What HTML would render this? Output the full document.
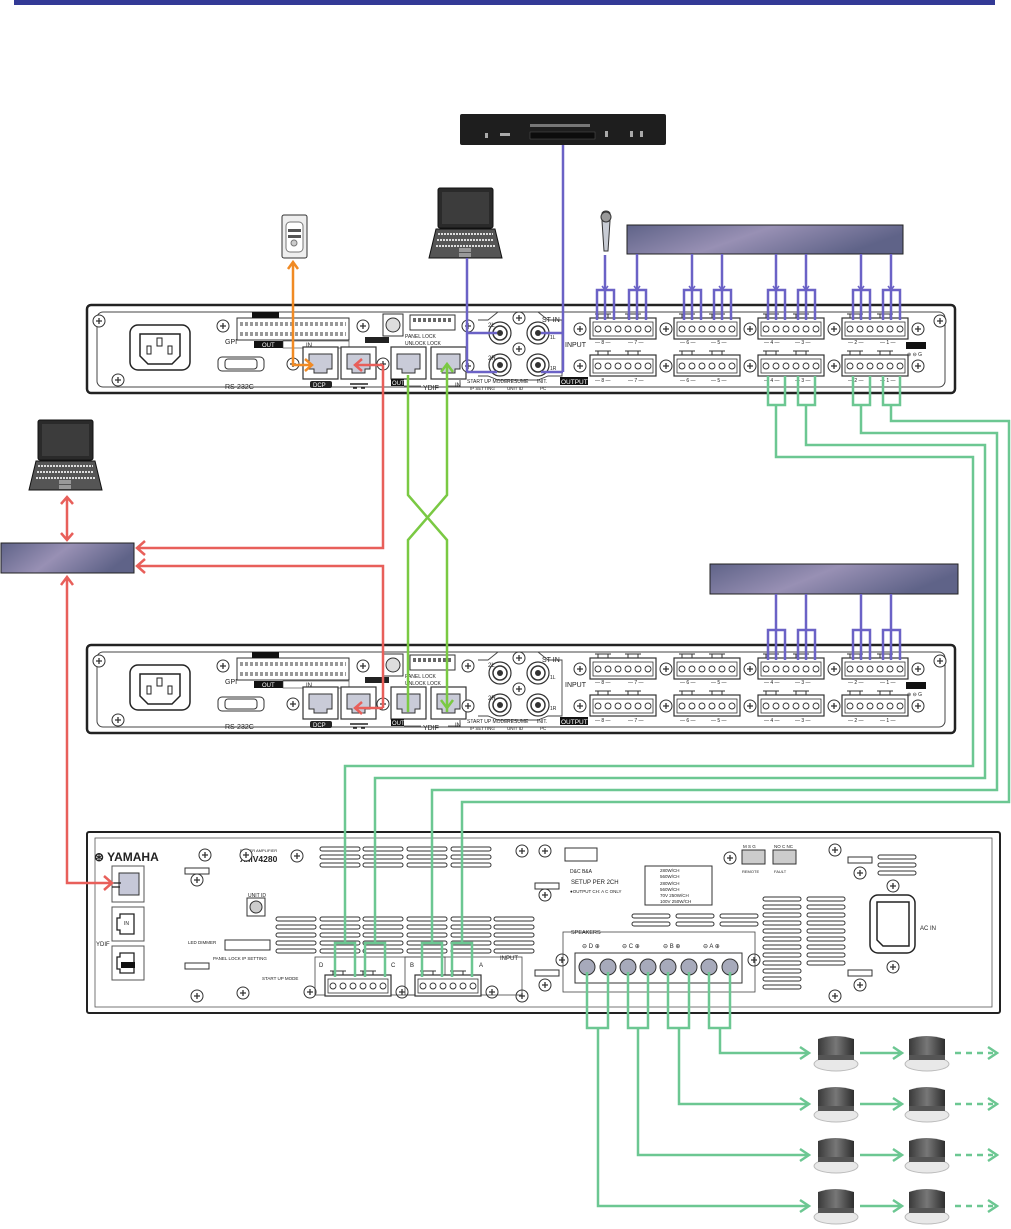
<!DOCTYPE html>
<html><head><meta charset="utf-8"><style>
html,body{margin:0;padding:0;background:#fff}
svg{display:block}
text{font-family:"Liberation Sans",sans-serif;fill:#222}
</style></head><body>
<svg width="1011" height="1229" viewBox="0 0 1011 1229" xmlns="http://www.w3.org/2000/svg">
<defs>
<linearGradient id="pg" x1="0" x2="1" y1="0" y2="0.3">
<stop offset="0" stop-color="#5f6388"/><stop offset="0.5" stop-color="#9890b4"/><stop offset="1" stop-color="#5f6388"/></linearGradient>
<linearGradient id="spk" x1="0" x2="1"><stop offset="0" stop-color="#3a3a3a"/><stop offset="0.5" stop-color="#777"/><stop offset="1" stop-color="#2e2e2e"/></linearGradient>
<g id="scr"><circle r="6" fill="#fff" stroke="#333" stroke-width="1"/><path d="M-3 0h6M0 -3v6" stroke="#333" stroke-width="1.3"/></g>
<g id="phx"><rect x="0" y="0" width="66" height="21" fill="#fff" stroke="#333" stroke-width="1.2"/><rect x="3" y="4" width="60" height="14" fill="none" stroke="#333" stroke-width="0.8"/>
<g fill="#fff" stroke="#333" stroke-width="0.9"><circle cx="8" cy="11" r="3"/><circle cx="18" cy="11" r="3"/><circle cx="28" cy="11" r="3"/><circle cx="38" cy="11" r="3"/><circle cx="48" cy="11" r="3"/><circle cx="58" cy="11" r="3"/></g>
<path d="M8 -4v4M18 -4v4M38-4v4M48-4v4M5 -4h16M35 -4h16" stroke="#333" stroke-width="1" fill="none"/></g>
<g id="port"><rect x="0" y="0" width="35" height="32" fill="#fff" stroke="#333" stroke-width="1.2"/><path d="M6 7h23v15h-5v4h-13v-4h-5z" fill="#c9cbd8" stroke="#333" stroke-width="1"/></g>
<g id="rca"><circle r="11" fill="#fff" stroke="#333" stroke-width="1.2"/><circle r="7" fill="none" stroke="#333" stroke-width="1.5"/><circle r="3" fill="#333"/></g>
<g id="rack">
<rect x="87" y="305" width="868" height="88" rx="4" fill="#fff" stroke="#222" stroke-width="2.5"/>
<rect x="97" y="312" width="848" height="75" rx="6" fill="none" stroke="#444" stroke-width="1"/>
<use href="#scr" x="99" y="321"/><use href="#scr" x="118" y="380"/><use href="#scr" x="940" y="321"/>
<rect x="130" y="325" width="60" height="45" rx="8" fill="#fff" stroke="#222" stroke-width="1.5"/>
<path d="M140 334h40v22l-8 8h-24l-8-8z" fill="#fff" stroke="#222" stroke-width="1.5"/>
<rect x="157" y="338" width="5" height="8" fill="none" stroke="#222"/><rect x="147" y="346" width="4" height="8" fill="none" stroke="#222"/><rect x="168" y="346" width="4" height="8" fill="none" stroke="#222"/>
<rect x="237" y="318" width="112" height="22" fill="#fff" stroke="#333"/>
<path d="M240 324h106M240 334h106" stroke="#999" stroke-width="4" stroke-dasharray="3 2"/>
<rect x="252" y="312" width="27" height="6" fill="#111"/>
<text x="225" y="344" font-size="7">GPI</text>
<rect x="254" y="341" width="29" height="7" fill="#111"/><text x="262" y="347" font-size="6" style="fill:#fff">OUT</text>
<rect x="283" y="341" width="66" height="7" fill="#fff" stroke="#333" stroke-width="0.6"/><text x="306" y="347" font-size="6">IN</text>
<use href="#scr" x="223" y="326"/><use href="#scr" x="363" y="326"/>
<rect x="218" y="357" width="46" height="14" rx="4" fill="#fff" stroke="#333"/><rect x="225" y="359" width="32" height="10" rx="3" fill="#fff" stroke="#333"/>
<text x="225" y="389" font-size="7">RS-232C</text>
<use href="#scr" x="293" y="364"/>
<use href="#port" x="303" y="347"/><rect x="310" y="381" width="22" height="7" rx="2" fill="#222"/><text x="313" y="387" font-size="6" style="fill:#fff">DCP</text>
<use href="#port" x="341" y="347"/><path d="M350 384h18M353 388h4M361 388h4" stroke="#222" stroke-width="1.5"/>
<use href="#scr" x="383" y="364"/>
<rect x="383" y="314" width="20" height="22" fill="#fff" stroke="#333"/><circle cx="393" cy="325" r="7" fill="#ddd" stroke="#333"/>
<rect x="365" y="337" width="24" height="6" fill="#222"/>
<rect x="410" y="315" width="45" height="15" fill="#fff" stroke="#333"/><path d="M413 320h39" stroke="#666" stroke-width="4" stroke-dasharray="3 2"/>
<text x="405" y="338" font-size="5">PANEL LOCK</text><text x="405" y="345" font-size="5">UNLOCK   LOCK</text>
<use href="#port" x="391" y="347"/><use href="#port" x="431" y="347"/>
<rect x="391" y="379" width="13" height="7" fill="#111"/><text x="392" y="385" font-size="6" style="fill:#fff">OUT</text>
<text x="423" y="390" font-size="7">YDIF</text><text x="455" y="387" font-size="6">IN</text>
<path d="M404 386h17M448 386h12v-6" stroke="#333" fill="none" stroke-width="0.8"/>
<path d="M478 320h10l10-8h40l10 8h14v56h-14l-10 4h-40l-10-4h-10" fill="none" stroke="#444" stroke-width="0.9"/>
<use href="#rca" x="500" y="333"/><use href="#rca" x="500" y="365"/><use href="#rca" x="538" y="333"/><use href="#rca" x="538" y="365"/>
<use href="#scr" x="519" y="318"/><use href="#scr" x="519" y="349"/><use href="#scr" x="468" y="326"/><use href="#scr" x="468" y="366"/>
<text x="488" y="327" font-size="6">2L</text><text x="488" y="360" font-size="6">2R</text><text x="542" y="322" font-size="7">ST IN</text><text x="550" y="339" font-size="5">1L</text><text x="550" y="370" font-size="5">1R</text>
<text x="467" y="383" font-size="5">START UP MODE</text><text x="470" y="390" font-size="4.5">IP SETTING</text>
<text x="507" y="383" font-size="5">RESUME</text><text x="507" y="390" font-size="4.5">UNIT ID</text><text x="537" y="383" font-size="5">INIT.</text><text x="540" y="390" font-size="4.5">PC</text>
<text x="565" y="347" font-size="7">INPUT</text>
<rect x="560" y="377" width="28" height="8" fill="#111"/><text x="561" y="384" font-size="6.5" style="fill:#fff">OUTPUT</text>
<use href="#phx" x="590" y="318"/><use href="#phx" x="674" y="318"/><use href="#phx" x="758" y="318"/><use href="#phx" x="842" y="318"/>
<use href="#phx" x="590" y="355"/><use href="#phx" x="674" y="355"/><use href="#phx" x="758" y="355"/><use href="#phx" x="842" y="355"/>
<use href="#scr" x="580" y="329"/><use href="#scr" x="666" y="329"/><use href="#scr" x="750" y="329"/><use href="#scr" x="834" y="329"/><use href="#scr" x="918" y="329"/>
<use href="#scr" x="580" y="366"/><use href="#scr" x="666" y="366"/><use href="#scr" x="750" y="366"/><use href="#scr" x="834" y="366"/><use href="#scr" x="918" y="366"/>
<g font-size="5"><text x="595" y="344">— 8 —</text><text x="628" y="344">— 7 —</text><text x="680" y="344">— 6 —</text><text x="711" y="344">— 5 —</text><text x="764" y="344">— 4 —</text><text x="795" y="344">— 3 —</text><text x="848" y="344">— 2 —</text><text x="880" y="344">— 1 —</text>
<text x="595" y="382">— 8 —</text><text x="628" y="382">— 7 —</text><text x="680" y="382">— 6 —</text><text x="711" y="382">— 5 —</text><text x="764" y="382">— 4 —</text><text x="795" y="382">— 3 —</text><text x="848" y="382">— 2 —</text><text x="880" y="382">— 1 —</text></g>
<rect x="906" y="342" width="20" height="7" fill="#111"/><text x="907" y="356" font-size="5">⊕ ⊖ G</text>
</g>
<marker id="ap" markerWidth="8" markerHeight="8" refX="5" refY="4" orient="auto" markerUnits="userSpaceOnUse"><path d="M1 1L5 4L1 7" fill="none" stroke="#6b62c6" stroke-width="1.5"/></marker>
</defs>

<rect x="14" y="0" width="981" height="5" fill="#333a96"/>

<!-- CD player -->
<rect x="460" y="114" width="206" height="31" rx="2" fill="#1e1e1e"/>
<rect x="530" y="124" width="60" height="3" fill="#777"/><rect x="530" y="132" width="65" height="7" fill="#0c0c0c" stroke="#555" stroke-width="0.5"/>
<rect x="485" y="133" width="3" height="5" fill="#aaa"/><rect x="500" y="133" width="10" height="3" fill="#aaa"/><rect x="605" y="131" width="3" height="6" fill="#aaa"/><rect x="630" y="131" width="3" height="6" fill="#aaa"/><rect x="640" y="131" width="3" height="6" fill="#aaa"/>
<!-- remote -->
<rect x="282" y="215" width="25" height="43" rx="2" fill="#eee" stroke="#333"/><rect x="286" y="222" width="17" height="30" rx="4" fill="#fff" stroke="#777"/><circle cx="294" cy="243" r="3" fill="#ccc" stroke="#777"/><rect x="288" y="229" width="13" height="3" fill="#555"/><rect x="288" y="235" width="13" height="3" fill="#555"/>
<!-- laptops -->
<g id="lap1">
<rect x="438" y="188" width="55" height="40" rx="2" fill="#2a2a2a" stroke="#111"/><rect x="442" y="192" width="47" height="32" fill="#3c3c3c"/>
<path d="M436 229h59l7 29h-73z" fill="#555" stroke="#111"/><path d="M438 234h55M437 240h57M436 246h59" stroke="#ddd" stroke-width="2" stroke-dasharray="2 1"/>
<rect x="459" y="248" width="12" height="4" fill="#999"/><rect x="459" y="253" width="12" height="4" fill="#999"/>
</g>
<use href="#lap1" x="-400" y="232"/>
<!-- mic -->
<path d="M602 213a5 5 0 0 1 8 0v8l-2 30h-4l-2-30z" fill="#c8ccd4" stroke="#333"/><circle cx="606" cy="217" r="5" fill="#999" stroke="#333"/>

<!-- purple boxes -->
<rect x="627" y="225" width="276" height="29" fill="url(#pg)" stroke="#222"/>
<rect x="710" y="564" width="248" height="30" fill="url(#pg)" stroke="#222"/>
<rect x="1" y="543" width="133" height="30" fill="url(#pg)" stroke="#222"/>

<!-- rack devices -->
<use href="#rack"/>
<use href="#rack" y="340"/>

<!-- amp -->
<rect x="87" y="832" width="913" height="181" rx="2" fill="#fff" stroke="#222" stroke-width="2"/>
<rect x="95" y="838" width="897" height="169" fill="none" stroke="#555" stroke-width="0.8"/>
<text x="94" y="861" font-size="12" font-weight="bold">⊛ YAMAHA</text>
<rect x="112" y="866" width="32" height="36" fill="#fff" stroke="#555"/><rect x="119" y="873" width="20" height="22" fill="#c6c8d8" stroke="#333"/>
<path d="M121 883h-8M120 887h-8" stroke="#222" stroke-width="1.3"/>
<rect x="112" y="907" width="32" height="34" fill="#fff" stroke="#555"/><path d="M120 914h14v20h-14v-4h-3v-12h3z" fill="none" stroke="#222" stroke-width="1.3"/>
<rect x="112" y="946" width="32" height="34" fill="#fff" stroke="#555"/><path d="M120 953h14v20h-14v-4h-3v-12h3z" fill="none" stroke="#222" stroke-width="1.3"/>
<text x="96" y="946" font-size="6">YDIF</text><text x="124" y="925" font-size="5">IN</text><rect x="121" y="962" width="14" height="6" fill="#111"/>
<text x="240" y="852" font-size="4">POWER AMPLIFIER</text><text x="240" y="862" font-size="8.5" font-weight="bold">XMV4280</text>
<rect x="247" y="898" width="18" height="18" fill="#fff" stroke="#333"/><circle cx="256" cy="907" r="6" fill="#ccc" stroke="#333"/><text x="248" y="897" font-size="5">UNIT ID</text>
<rect x="225" y="940" width="45" height="10" fill="#fff" stroke="#333"/>
<text x="188" y="944" font-size="4.5">LED DIMMER</text><text x="213" y="960" font-size="4.5">PANEL LOCK  IP SETTING</text><text x="262" y="980" font-size="4.5">START UP MODE</text>
<g fill="none" stroke="#333" stroke-width="1"><path d="M185 868h24v6h-24z"/><path d="M185 963h24v6h-24z"/><path d="M535 883h24v6h-24z"/><path d="M535 970h24v6h-24z"/><path d="M848 857h24v6h-24z"/><path d="M848 970h24v6h-24z"/></g>
<g fill="#fff"><use href="#scr" x="205" y="855"/><use href="#scr" x="197" y="880"/><use href="#scr" x="197" y="996"/><use href="#scr" x="246" y="855"/><use href="#scr" x="297" y="856"/><use href="#scr" x="243" y="993"/><use href="#scr" x="310" y="992"/><use href="#scr" x="402" y="992"/><use href="#scr" x="492" y="992"/><use href="#scr" x="522" y="851"/><use href="#scr" x="545" y="851"/><use href="#scr" x="545" y="895"/><use href="#scr" x="545" y="985"/><use href="#scr" x="522" y="996"/><use href="#scr" x="562" y="960"/><use href="#scr" x="754" y="960"/><use href="#scr" x="730" y="858"/><use href="#scr" x="835" y="850"/><use href="#scr" x="860" y="873"/><use href="#scr" x="893" y="886"/><use href="#scr" x="893" y="967"/><use href="#scr" x="860" y="985"/><use href="#scr" x="835" y="996"/></g>
<g fill="#fff" stroke="#333" stroke-width="1">
<rect x="320" y="847" width="40" height="4" rx="2"/><rect x="320" y="855" width="40" height="4" rx="2"/><rect x="320" y="863" width="40" height="4" rx="2"/>
<rect x="363" y="847" width="40" height="4" rx="2"/><rect x="363" y="855" width="40" height="4" rx="2"/><rect x="363" y="863" width="40" height="4" rx="2"/>
<rect x="407" y="847" width="40" height="4" rx="2"/><rect x="407" y="855" width="40" height="4" rx="2"/><rect x="407" y="863" width="40" height="4" rx="2"/>
<rect x="451" y="847" width="40" height="4" rx="2"/><rect x="451" y="855" width="40" height="4" rx="2"/><rect x="451" y="863" width="40" height="4" rx="2"/>
<rect x="276" y="917" width="40" height="4" rx="2"/><rect x="276" y="925" width="40" height="4" rx="2"/><rect x="276" y="933" width="40" height="4" rx="2"/><rect x="276" y="941" width="40" height="4" rx="2"/><rect x="276" y="949" width="40" height="4" rx="2"/>
<rect x="320" y="917" width="40" height="4" rx="2"/><rect x="320" y="925" width="40" height="4" rx="2"/><rect x="320" y="933" width="40" height="4" rx="2"/><rect x="320" y="941" width="40" height="4" rx="2"/><rect x="320" y="949" width="40" height="4" rx="2"/>
<rect x="363" y="917" width="40" height="4" rx="2"/><rect x="363" y="925" width="40" height="4" rx="2"/><rect x="363" y="933" width="40" height="4" rx="2"/><rect x="363" y="941" width="40" height="4" rx="2"/><rect x="363" y="949" width="40" height="4" rx="2"/>
<rect x="407" y="917" width="40" height="4" rx="2"/><rect x="407" y="925" width="40" height="4" rx="2"/><rect x="407" y="933" width="40" height="4" rx="2"/><rect x="407" y="941" width="40" height="4" rx="2"/><rect x="407" y="949" width="40" height="4" rx="2"/>
<rect x="451" y="917" width="40" height="4" rx="2"/><rect x="451" y="925" width="40" height="4" rx="2"/><rect x="451" y="933" width="40" height="4" rx="2"/><rect x="451" y="941" width="40" height="4" rx="2"/><rect x="451" y="949" width="40" height="4" rx="2"/>
<rect x="494" y="917" width="40" height="4" rx="2"/><rect x="494" y="925" width="40" height="4" rx="2"/><rect x="494" y="933" width="40" height="4" rx="2"/><rect x="494" y="941" width="40" height="4" rx="2"/><rect x="494" y="949" width="40" height="4" rx="2"/>
<rect x="632" y="914" width="38" height="4" rx="2"/><rect x="676" y="914" width="38" height="4" rx="2"/><rect x="720" y="914" width="38" height="4" rx="2"/><rect x="632" y="922" width="38" height="4" rx="2"/><rect x="676" y="922" width="38" height="4" rx="2"/><rect x="720" y="922" width="38" height="4" rx="2"/>
<rect x="763" y="897" width="38" height="4" rx="2"/><rect x="763" y="905" width="38" height="4" rx="2"/><rect x="763" y="913" width="38" height="4" rx="2"/><rect x="763" y="921" width="38" height="4" rx="2"/><rect x="763" y="929" width="38" height="4" rx="2"/><rect x="763" y="937" width="38" height="4" rx="2"/><rect x="763" y="945" width="38" height="4" rx="2"/><rect x="763" y="953" width="38" height="4" rx="2"/><rect x="763" y="961" width="38" height="4" rx="2"/><rect x="763" y="969" width="38" height="4" rx="2"/><rect x="763" y="977" width="38" height="4" rx="2"/><rect x="763" y="985" width="38" height="4" rx="2"/>
<rect x="807" y="897" width="38" height="4" rx="2"/><rect x="807" y="905" width="38" height="4" rx="2"/><rect x="807" y="913" width="38" height="4" rx="2"/><rect x="807" y="921" width="38" height="4" rx="2"/><rect x="807" y="929" width="38" height="4" rx="2"/><rect x="807" y="937" width="38" height="4" rx="2"/><rect x="807" y="945" width="38" height="4" rx="2"/><rect x="807" y="953" width="38" height="4" rx="2"/><rect x="807" y="961" width="38" height="4" rx="2"/>
<rect x="878" y="855" width="38" height="4" rx="2"/><rect x="878" y="863" width="38" height="4" rx="2"/><rect x="878" y="871" width="38" height="4" rx="2"/>
</g>
<rect x="315" y="957" width="130" height="38" fill="none" stroke="#444" stroke-width="0.8"/>
<rect x="405" y="957" width="117" height="38" fill="none" stroke="#444" stroke-width="0.8"/>
<use href="#phx" x="325" y="975"/><use href="#phx" x="415" y="975"/>
<g font-size="6"><text x="319" y="967">D</text><text x="391" y="967">C</text><text x="410" y="967">B</text><text x="479" y="967">A</text><text x="500" y="960">INPUT</text></g>
<rect x="565" y="848" width="32" height="13" fill="#fff" stroke="#333"/><text x="570" y="873" font-size="5">D&amp;C  B&amp;A</text>
<text x="571" y="884" font-size="6">SETUP PER 2CH</text><text x="570" y="893" font-size="4.5">●OUTPUT CH: A C ONLY</text>
<rect x="645" y="866" width="67" height="39" fill="#fff" stroke="#333"/>
<g font-size="4.5"><text x="660" y="872">280W/CH</text><text x="660" y="878">560W/CH</text><text x="660" y="885">280W/CH</text><text x="660" y="891">560W/CH</text><text x="660" y="897">70V 250W/CH</text><text x="660" y="903">100V 250W/CH</text></g>
<rect x="742" y="850" width="23" height="14" fill="#ccc" stroke="#333"/><rect x="773" y="850" width="23" height="14" fill="#ccc" stroke="#333"/>
<text x="743" y="848" font-size="4.5">M S G</text><text x="774" y="848" font-size="4.5">NO C NC</text><text x="742" y="873" font-size="4">REMOTE</text><text x="774" y="873" font-size="4">FAULT</text>
<rect x="563" y="932" width="192" height="60" fill="none" stroke="#444" stroke-width="0.8"/><text x="571" y="934" font-size="5.5">SPEAKERS</text>
<rect x="575" y="953" width="167" height="30" fill="#fff" stroke="#333"/>
<g font-size="6"><text x="582" y="948">⊖ D ⊕</text><text x="622" y="948">⊖ C ⊕</text><text x="663" y="948">⊖ B ⊕</text><text x="703" y="948">⊖ A ⊕</text></g>
<g fill="#a7aabb" stroke="#333"><circle cx="587" cy="967" r="8"/><circle cx="608" cy="967" r="8"/><circle cx="628" cy="967" r="8"/><circle cx="648" cy="967" r="8"/><circle cx="668" cy="967" r="8"/><circle cx="689" cy="967" r="8"/><circle cx="709" cy="967" r="8"/><circle cx="730" cy="967" r="8"/></g>
<rect x="870" y="895" width="45" height="58" rx="8" fill="#fff" stroke="#222" stroke-width="1.5"/><path d="M877 902h32v44h-26l-6-6z" fill="#fff" stroke="#222" stroke-width="1.5"/>
<text x="920" y="930" font-size="6">AC  IN</text>

<!-- purple connections -->
<g stroke="#6b62c6" stroke-width="2.5" fill="none" marker-end="url(#ap)">
<path d="M605 255v35"/><path d="M637 254v36"/><path d="M692 254v36"/><path d="M722 254v36"/><path d="M776 254v36"/><path d="M806 254v36"/><path d="M861 254v36"/><path d="M891 254v36"/>
</g>
<g stroke="#6b62c6" stroke-width="2.5" fill="none">
<path d="M597 320v-30h17v30M605 290v30"/><path d="M629 320v-30h17v30M637 290v30"/>
<path d="M684 320v-30h17v30M692 290v30"/><path d="M714 320v-30h17v30M722 290v30"/>
<path d="M768 320v-30h17v30M776 290v30"/><path d="M798 320v-30h17v30M806 290v30"/>
<path d="M853 320v-30h17v30M861 290v30"/><path d="M883 320v-30h17v30M891 290v30"/>
<path d="M768 660v-30h17v30M776 594v66"/><path d="M798 660v-30h17v30M806 594v66"/>
<path d="M853 660v-30h17v30M861 594v66"/><path d="M883 660v-30h17v30M891 594v66"/>
<path d="M467 258v114M467 333h30M467 372h30"/>
<path d="M563 145v227M563 333h-22M563 372h-22"/>
</g>
<!-- green -->
<g stroke="#6cc792" stroke-width="2.5" fill="none">
<path d="M768 376v29h17v-29M776 405v52h197v309h-628v177"/>
<path d="M798 376v29h17v-29M806 405v40h179v333h-610v165"/>
<path d="M853 376v29h17v-29M861 405v28h136v357h-565v153"/>
<path d="M883 376v29h17v-29M891 405v16h118v381h-547v141"/>
<path d="M335 977v-34h20v34"/><path d="M365 977v-34h20v34"/><path d="M422 977v-34h20v34"/><path d="M452 977v-34h20v34"/>
<path d="M587 972v56h21v-56M598 1028v178h210"/>
<path d="M628 972v56h20v-56M638 1028v127h170"/>
<path d="M668 972v56h21v-56M679 1028v76h129"/>
<path d="M709 972v56h21v-56M720 1028v25h88"/>
<path d="M800 1047l9 6l-9 6M800 1098l9 6l-9 6M800 1149l9 6l-9 6M800 1200l9 6l-9 6"/>
<path d="M860 1053h40M860 1104h40M860 1155h40M860 1206h40M893 1047l9 6l-9 6M893 1098l9 6l-9 6M893 1149l9 6l-9 6M893 1200l9 6l-9 6"/>
<path d="M955 1053h38M955 1104h38M955 1155h38M955 1206h38" stroke-dasharray="6 5"/>
<path d="M988 1047l9 6l-9 6M988 1098l9 6l-9 6M988 1149l9 6l-9 6M988 1200l9 6l-9 6"/>
</g>
<g stroke="#7ac943" stroke-width="2.5" fill="none">
<path d="M408 375v120l39 45v172"/><path d="M447 365v130l-39 45v172"/>
<path d="M441 372l6-8l6 8M441 700l6 8l6-8"/>
</g>
<g stroke="#e85f5a" stroke-width="2.5" fill="none">
<path d="M383 365h-28M362 359l-7 6l7 6"/>
<path d="M383 365v183h-246M145 541l-8 7l8 7"/>
<path d="M383 708v-142h-246M145 559l-8 7l8 7"/>
<path d="M383 708h-28M362 702l-7 6l7 6"/>
<path d="M67 497v43M61 504l6-7l6 7M61 533l6 7l6-7"/>
<path d="M67 577v306h45M61 585l6-8l6 8M104 876l8 7l-8 7"/>
</g>
<g stroke="#f08a24" stroke-width="2.5" fill="none">
<path d="M293 262v103h19M305 359l7 6l-7 6M288 269l5-7l5 7"/>
</g>

<!-- speakers -->
<g id="sp1">
<path d="M818 1039q17-6 36 0v18h-36z" fill="url(#spk)"/>
<ellipse cx="836" cy="1064" rx="22" ry="7" fill="#e8e8e8" stroke="#bbb"/><rect x="818" y="1055" width="36" height="5" fill="#555"/>
</g>
<use href="#sp1" x="91"/>
<use href="#sp1" y="51"/><use href="#sp1" x="91" y="51"/>
<use href="#sp1" y="102"/><use href="#sp1" x="91" y="102"/>
<use href="#sp1" y="153"/><use href="#sp1" x="91" y="153"/>
</svg>
</body></html>
